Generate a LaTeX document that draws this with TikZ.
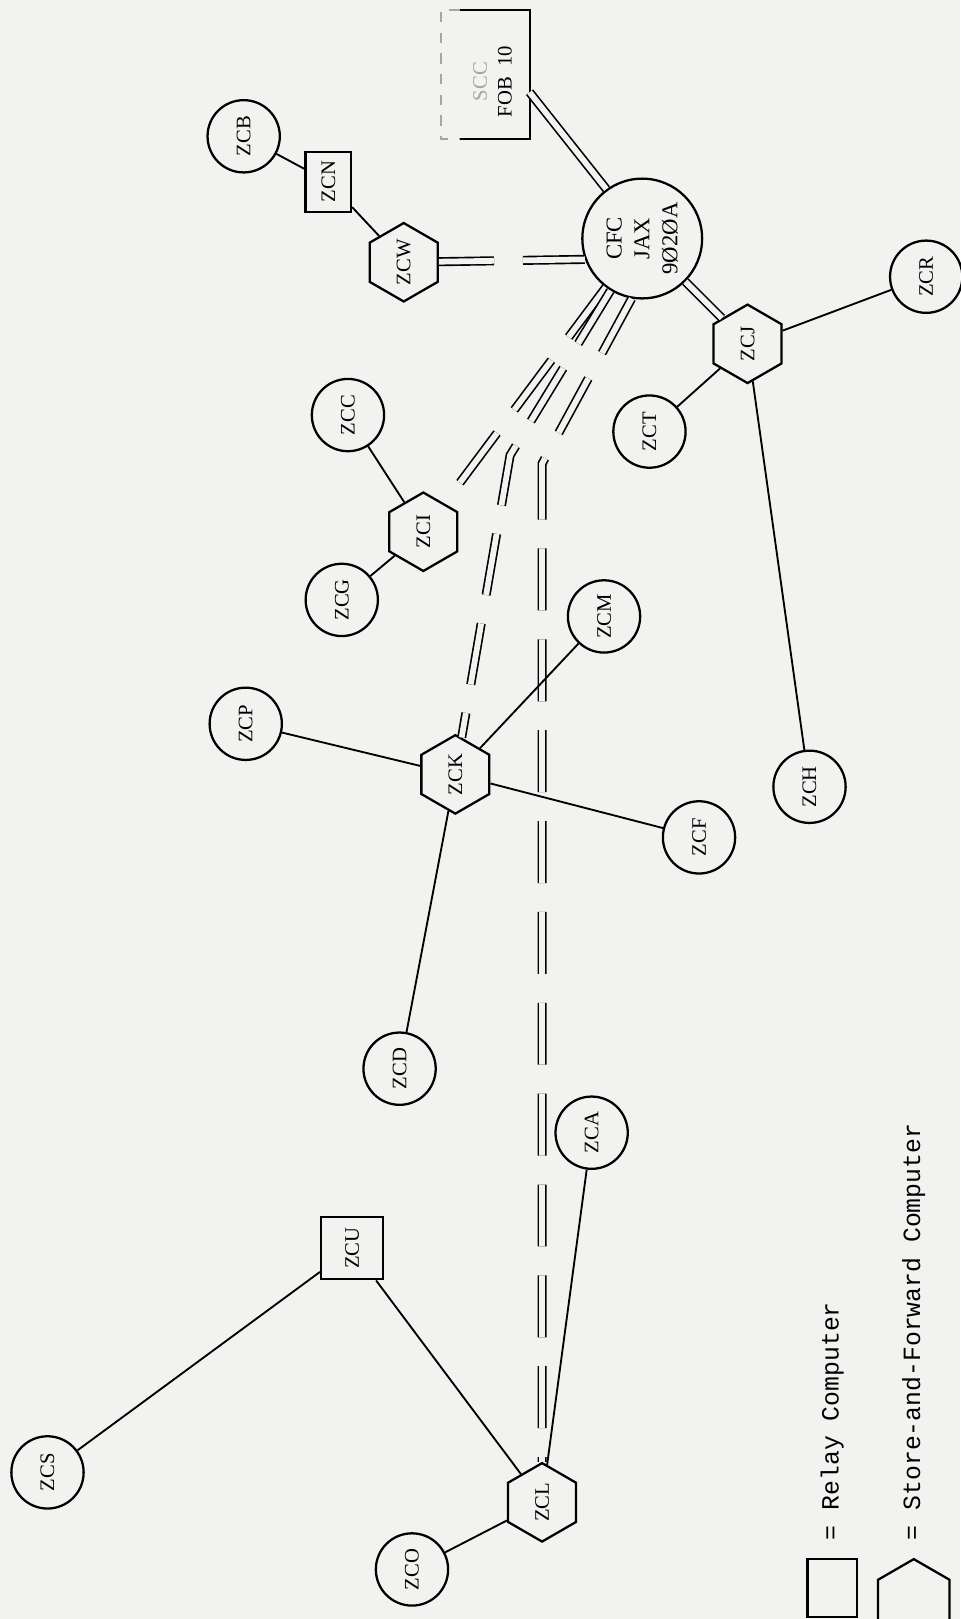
\documentclass[tikz,border=0pt]{standalone}
\usepackage{fontspec}
\setmainfont{Liberation Serif}
\newfontfamily\keyfont{Liberation Mono}
\usetikzlibrary{shapes.geometric}

\definecolor{paper}{RGB}{242,242,240}
\definecolor{faded}{RGB}{165,165,165}

\tikzset{
  lbl/.style={font=\fontsize{10}{12}\selectfont},
  site/.style={circle, draw, line width=1.1pt, minimum size=35pt, inner sep=0pt, rotate=90, lbl},
  sfc/.style={regular polygon, regular polygon sides=6, draw, line width=1.1pt, minimum size=38pt, inner sep=0pt, rotate=90, lbl},
  relay/.style={rectangle, draw, line width=1.1pt, inner sep=0pt, rotate=90, lbl},
  keytext/.style={rotate=90, inner sep=0pt, font=\keyfont\fontsize{12}{14}\selectfont},
  link/.style={line width=0.9pt},
  trunk/.style={line width=0.8pt, double=paper, double distance=2.8pt},
  dtrunk/.style={trunk, dash pattern=on 30pt off 14pt},
}

\begin{document}
\begin{tikzpicture}[x=0.5pt, y=-0.5pt]
    \fill[paper] (0,0) rectangle (930,1568);
    \useasboundingbox (0,0) rectangle (930,1568);

    % Central computer and FOB box
    \node[site, minimum size=58pt, align=center, font=\fontsize{11}{13.5}\selectfont] (cfc) at (622,231) {CFC\\JAX\\9Ø2ØA};
    \node[minimum width=42.5pt, minimum height=62pt, inner sep=0pt] (fob) at (470,72) {};
    \node[rotate=90, align=center, lbl] (foblabel) at (477,79) {\textcolor{faded}{SCC}\\FOB~~10};
    \draw[link] ([xshift=9pt]fob.north west) -- (fob.north east) -- (fob.south east) -- ([xshift=9pt]fob.south west);
    \draw[faded, line width=0.8pt, dash pattern=on 5pt off 5pt] ([xshift=9pt]fob.north west) -- (fob.north west) -- (fob.south west) -- ([xshift=9pt]fob.south west);

    % Stations
    \node[site] (zcb) at (236,132) {ZCB};
    \node[relay, minimum width=29pt, minimum height=22pt] (zcn) at (318,176) {ZCN};
    \node[sfc] (zcw) at (391,254) {ZCW};
    \node[site] (zcr) at (897,268) {ZCR};
    \node[sfc] (zcj) at (724,333) {ZCJ};
    \node[site] (zct) at (629,418) {ZCT};
    \node[site] (zcc) at (337,402) {ZCC};
    \node[sfc] (zci) at (410,515) {ZCI};
    \node[site] (zcg) at (331,581) {ZCG};
    \node[site] (zcm) at (585,597) {ZCM};
    \node[site] (zcp) at (238,701) {ZCP};
    \node[sfc] (zck) at (441,750) {ZCK};
    \node[site] (zch) at (784,762) {ZCH};
    \node[site] (zcf) at (677,811) {ZCF};
    \node[site] (zcd) at (387,1035) {ZCD};
    \node[site] (zca) at (573,1097) {ZCA};
    \node[relay, minimum size=30pt] (zcu) at (341,1209) {ZCU};
    \node[site] (zcs) at (46,1426) {ZCS};
    \node[sfc] (zcl) at (525,1455) {ZCL};
    \node[site] (zco) at (399,1520) {ZCO};

    % Trunks from CFC
    \coordinate (bendk) at (494,441);
    \coordinate (bendl) at (525,449);
    \draw[trunk] (fob.-22) -- (cfc.36);
    \draw[trunk] (cfc) -- (zcj);
    \draw[dtrunk] (cfc.110) -- (zcw);
    \draw[dtrunk] (cfc) -- (zci);
    \draw[dtrunk] (cfc) -- (bendk) -- (zck);
    \draw[dtrunk] (cfc.170) -- (bendl) -- (zcl);

    % Local lines
    \draw[link] (zcb) -- (zcn);
    \draw[link] (zcn) -- (zcw);
    \draw[link] (zcj) -- (zcr);
    \draw[link] (zcj) -- (zct);
    \draw[link] (zcj) -- (zch);
    \draw[link] (zci) -- (zcc);
    \draw[link] (zci) -- (zcg);
    \draw[link] (zck) -- (zcp);
    \draw[link] (zck) -- (zcm);
    \draw[link] (zck) -- (zcf);
    \draw[link] (zck) -- (zcd);
    \draw[link] (zcu) -- (zcs);
    \draw[link] (zcu) -- (zcl);
    \draw[link] (zcl) -- (zca);
    \draw[link] (zcl) -- (zco);

    % Legend
    \node[relay, minimum width=28pt, minimum height=24pt] (keyrelay) at (806,1538) {};
    \node[sfc, minimum size=40pt] (keysfc) at (885,1550) {};
    \node[keytext, anchor=west] (relaytext) at (806,1492) {= Relay Computer};
    \node[keytext, anchor=west] (sfctext) at (885,1492) {= Store-and-Forward Computer};
\end{tikzpicture}
\end{document}
